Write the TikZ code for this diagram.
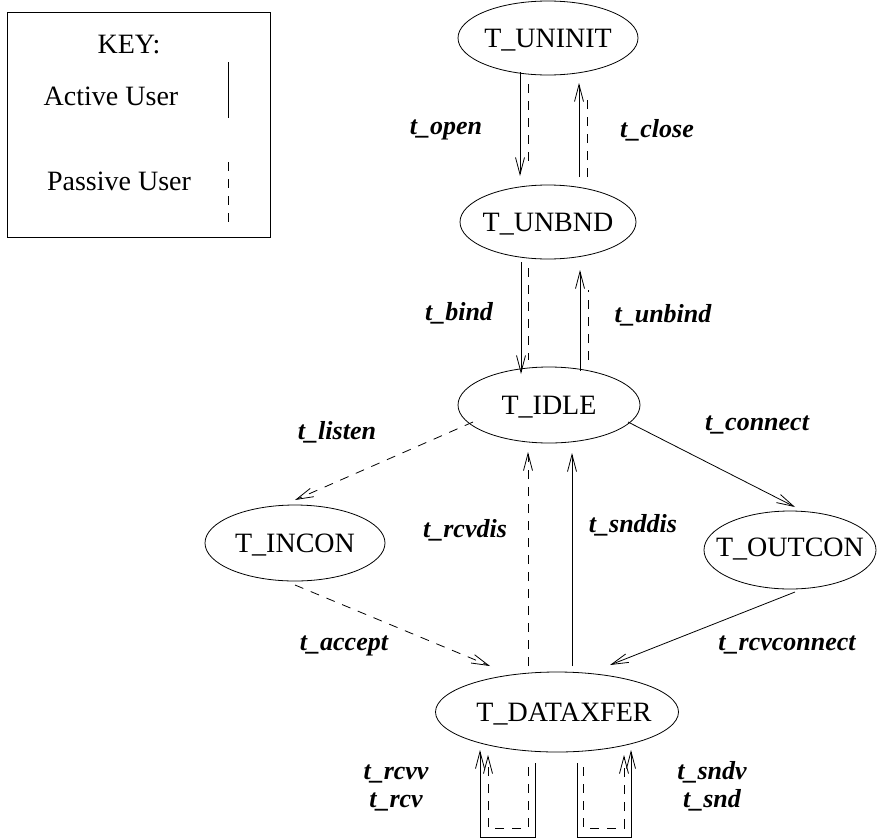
\documentclass[tikz,border=0pt]{standalone}
\usepackage{fontspec}
\setmainfont{Liberation Serif}
\usetikzlibrary{arrows.meta,shapes.geometric}
\begin{document}
\begin{tikzpicture}[x=1pt,y=-1pt,line width=0.8pt,
  state/.style={draw, ellipse, inner sep=0pt, text height=18.5pt, text depth=0pt, font=\fontsize{28}{30}\selectfont},
  lab/.style={anchor=base, inner sep=0pt, font=\fontsize{26}{28}\selectfont\bfseries\itshape},
  keytext/.style={anchor=base, inner sep=0pt, font=\fontsize{28}{30}\selectfont},
  act/.style={draw, -{Straight Barb[length=17pt,width=9pt]}},
  pas/.style={draw, dash pattern=on 9pt off 8pt, -{Straight Barb[length=17pt,width=9pt]}},
  pasl/.style={draw, dash pattern=on 9pt off 8pt},
  actl/.style={draw}
]
\useasboundingbox (0,0) rectangle (877,838);

% key
\node[draw, inner sep=0pt, minimum width=263pt, minimum height=225pt] (key) at (138.5,124.5) {};
\node[keytext] (kt) at (129,53) {KEY:};
\node[keytext] (ka) at (111,105) {Active User};
\node[keytext] (kp) at (119,190) {Passive User};
\coordinate (ka1) at (228,62);  \coordinate (ka2) at (228,118);
\coordinate (kp1) at (228,162); \coordinate (kp2) at (228,223);
\path[actl] (ka1) -- (ka2);
\path[pasl] (kp1) -- (kp2);

% states
\node[state, minimum width=180pt, minimum height=74pt] (ui) at (548,38) {\makebox[0pt]{T\_UNINIT}};
\node[state, minimum width=176pt, minimum height=74pt] (ub) at (548,222) {\makebox[0pt]{T\_UNBND}};
\node[state, minimum width=182pt, minimum height=76pt] (id) at (549,405) {\makebox[0pt]{T\_IDLE}};
\node[state, minimum width=180pt, minimum height=76pt] (ic) at (295,543) {\makebox[0pt]{T\_INCON}};
\node[state, minimum width=172pt, minimum height=78pt, text depth=6pt] (oc) at (790,550) {\makebox[0pt]{T\_OUTCON}};
\node[state, minimum width=243pt, minimum height=80pt] (dx) at (557,712) {\makebox[0pt]{\hspace*{14pt}T\_DATAXFER}};

% endpoints
\coordinate (o1) at (520,72);  \coordinate (o2) at (520,176);
\coordinate (o3) at (528,84);  \coordinate (o4) at (528,166);
\coordinate (c1) at (579,177); \coordinate (c2) at (579,83);
\coordinate (c3) at (587,177); \coordinate (c4) at (587,98);
\coordinate (b1) at (521,262); \coordinate (b2) at (521,374);
\coordinate (b3) at (528,268); \coordinate (b4) at (528,360);
\coordinate (u1) at (580,371); \coordinate (u2) at (580,270);
\coordinate (u3) at (588,360); \coordinate (u4) at (588,290);
\coordinate (l1) at (473,422); \coordinate (l2) at (295,500);
\coordinate (n1) at (628,422); \coordinate (n2) at (795,507);
\coordinate (r1) at (528,666); \coordinate (r2) at (528,452);
\coordinate (s1) at (572,666); \coordinate (s2) at (572,453);
\coordinate (a1) at (295,585); \coordinate (a2) at (490,666);
\coordinate (q1) at (795,592); \coordinate (q2) at (610,665);

\path[act] (o1) -- (o2);
\path[pasl] (o3) -- (o4);
\path[act] (c1) -- (c2);
\path[pasl] (c3) -- (c4);
\path[act] (b1) -- (b2);
\path[pasl] (b3) -- (b4);
\path[act] (u1) -- (u2);
\path[pasl] (u3) -- (u4);
\path[pas] (l1) -- (l2);
\path[act] (n1) -- (n2);
\path[pas] (r1) -- (r2);
\path[act] (s1) -- (s2);
\path[pas] (a1) -- (a2);
\path[act] (q1) -- (q2);

% loops
\coordinate (la1) at (535,763); \coordinate (la2) at (480,750);
\coordinate (lp1) at (528,767); \coordinate (lp2) at (488,755);
\coordinate (ra1) at (577,763); \coordinate (ra2) at (631,750);
\coordinate (rp1) at (583,767); \coordinate (rp2) at (624,755);
\path[act] (la1) -- ++(0,74) -| (la2);
\path[pas] (lp1) -- ++(0,61) -| (lp2);
\path[act] (ra1) -- ++(0,74) -| (ra2);
\path[pas] (rp1) -- ++(0,61) -| (rp2);

% labels
\node[lab] (t1) at (446,134) {t\_open};
\node[lab] (t2) at (657,137) {t\_close};
\node[lab] (t3) at (459,320) {t\_bind};
\node[lab] (t4) at (663,322) {t\_unbind};
\node[lab] (t5) at (337,439) {t\_listen};
\node[lab] (t6) at (757,430) {t\_connect};
\node[lab] (t7) at (465,537) {t\_rcvdis};
\node[lab] (t8) at (633,532) {t\_snddis};
\node[lab] (t9) at (344,650) {t\_accept};
\node[lab] (t10) at (787,650) {t\_rcvconnect};
\node[lab] (t11) at (396,779) {t\_rcvv};
\node[lab] (t12) at (396,807) {t\_rcv};
\node[lab] (t13) at (712,779) {t\_sndv};
\node[lab] (t14) at (712,807) {t\_snd};
\end{tikzpicture}
\end{document}
